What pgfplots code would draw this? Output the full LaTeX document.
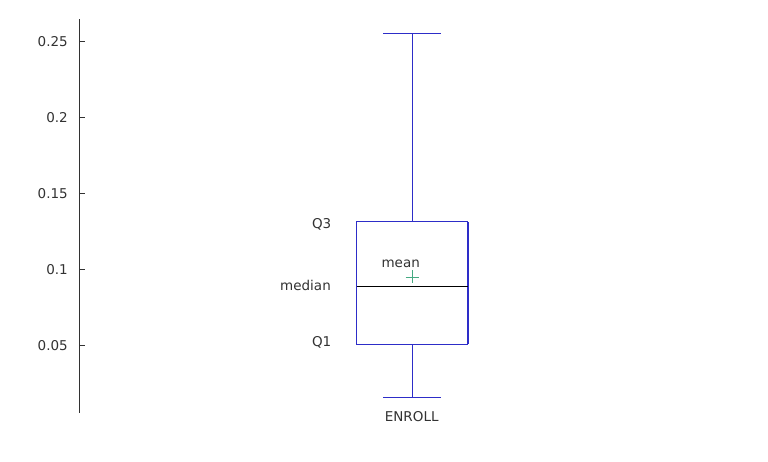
\documentclass[border=0pt]{standalone}
\usepackage{fontspec}
\setmainfont{DejaVu Sans}
\usepackage{pgfplots}
\pgfplotsset{compat=1.18}
\definecolor{boxblue}{RGB}{45,45,200}
\definecolor{meangreen}{RGB}{70,170,130}
\definecolor{txt}{RGB}{50,50,50}
\begin{document}
\fontsize{13.5pt}{16pt}\selectfont
\begin{tikzpicture}
\path[use as bounding box] (0pt,0pt) rectangle (768pt,461pt);
\begin{axis}[
  at={(79pt,48.3pt)}, anchor=south west,
  scale only axis, width=666pt, height=393.4pt,
  xmin=0, xmax=6.66,
  ymin=0.0059, ymax=0.2647,
  axis x line=none,
  axis y line=left, axis line style={-, txt, line width=0.8pt},
  ytick={0.05,0.1,0.15,0.2,0.25},
  yticklabels={0.05,0.1,0.15,0.2,0.25},
  tick align=inside, major tick length=6pt,
  tick style={txt, line width=0.8pt},
  yticklabel style={text=txt, inner xsep=0pt, xshift=-11pt},
  clip=false,
]
% box (Q1 = 0.0509, Q3 = 0.1314), x extent 2.777 .. 3.887
\addplot[boxblue, line width=0.9pt, mark=none]
  coordinates {(3.887,0.1314) (2.777,0.1314) (2.777,0.0509) (3.887,0.0509)};
\addplot[boxblue, line width=1.7pt, mark=none]
  coordinates {(3.887,0.0509) (3.887,0.1314)};
% upper whisker 0.2555
\addplot[boxblue, line width=0.9pt, mark=none]
  coordinates {(3.332,0.1314) (3.332,0.2555)};
\addplot[boxblue, line width=0.9pt, mark=none]
  coordinates {(3.042,0.2555) (3.622,0.2555)};
% lower whisker 0.0158
\addplot[boxblue, line width=0.9pt, mark=none]
  coordinates {(3.332,0.0509) (3.332,0.0158)};
\addplot[boxblue, line width=0.9pt, mark=none]
  coordinates {(3.042,0.0158) (3.622,0.0158)};
% median 0.089
\addplot[black, line width=0.8pt, mark=none]
  coordinates {(2.777,0.089) (3.887,0.089)};
% mean 0.0952
\addplot[only marks, mark=+, mark size=6.5pt, meangreen, line width=0.6pt]
  coordinates {(3.332,0.0952)};
\node[anchor=east, text=txt, inner sep=0pt] at (axis cs:2.525,0.1295) {Q3};
\node[anchor=east, text=txt, inner sep=0pt] at (axis cs:2.52,0.0893) {median};
\node[anchor=east, text=txt, inner sep=0pt] at (axis cs:2.525,0.0519) {Q1};
\node[text=txt, inner sep=0pt] at (axis cs:3.217,0.1039) {mean};
\node[text=txt, inner sep=0pt] at (axis cs:3.327,0.0033) {ENROLL};
\end{axis}
\end{tikzpicture}
\end{document}
